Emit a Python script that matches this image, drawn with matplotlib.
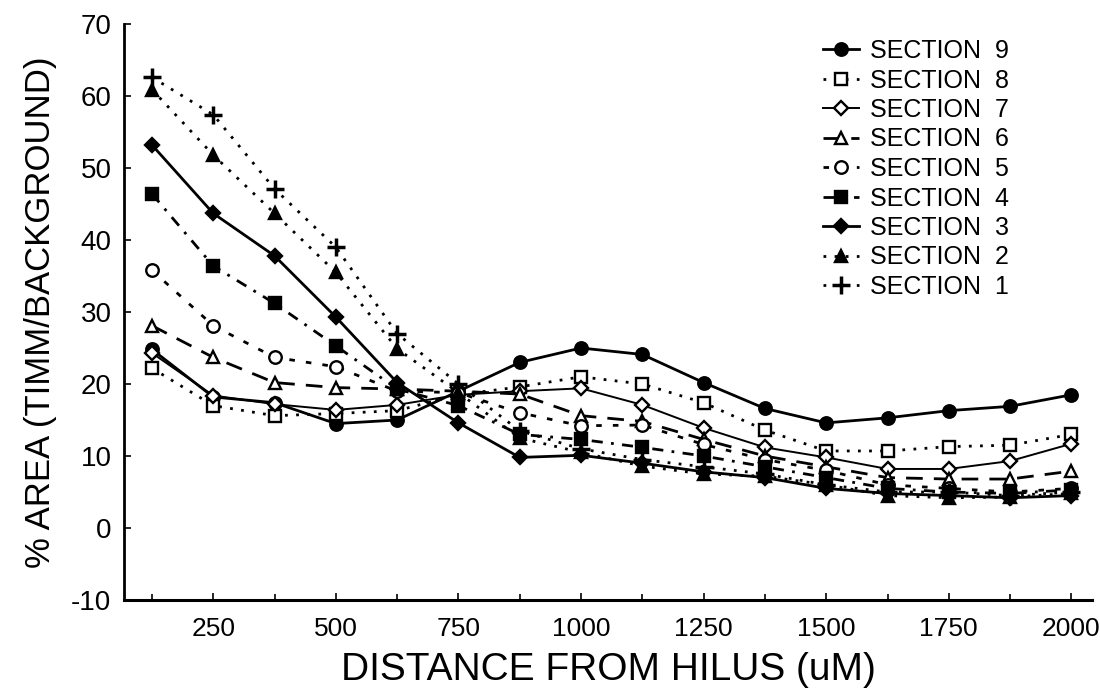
import matplotlib
matplotlib.use("Agg")
import matplotlib.pyplot as plt
from matplotlib.ticker import MultipleLocator

distance = [125, 250, 375, 500, 625, 750, 875, 1000, 1125, 1250, 1375, 1500, 1625, 1750, 1875, 2000]

section9 = [24.8, 18.2, 17.4, 14.5, 15.0, 19.0, 23.0, 25.0, 24.1, 20.2, 16.6, 14.6, 15.3, 16.3, 16.9, 18.5]
section8 = [22.2, 17.0, 15.6, 15.9, 16.3, 18.5, 19.6, 21.0, 20.0, 17.4, 13.6, 10.7, 10.7, 11.3, 11.5, 13.0]
section7 = [24.3, 18.4, 17.2, 16.4, 17.1, 18.5, 19.0, 19.4, 17.1, 13.9, 11.2, 9.8, 8.2, 8.2, 9.3, 11.7]
section6 = [28.1, 23.7, 20.2, 19.5, 19.3, 19.0, 18.6, 15.6, 14.8, 12.3, 10.0, 8.5, 7.0, 6.8, 6.8, 7.9]
section5 = [35.8, 28.1, 23.7, 22.4, 19.0, 18.8, 16.0, 14.2, 14.3, 11.6, 9.5, 8.0, 6.0, 5.5, 5.0, 5.5]
section4 = [46.4, 36.4, 31.2, 25.3, 19.3, 17.0, 13.0, 12.3, 11.2, 10.0, 8.5, 7.0, 5.5, 5.0, 4.8, 5.3]
section3 = [53.2, 43.7, 37.8, 29.3, 20.2, 14.6, 9.8, 10.1, 9.0, 7.8, 7.0, 5.5, 4.8, 4.5, 4.2, 4.5]
section2 = [60.9, 51.8, 43.7, 35.5, 24.9, 18.8, 12.5, 10.5, 8.6, 7.5, 7.2, 6.0, 4.5, 4.2, 4.3, 4.8]
section1 = [62.6, 57.4, 47.1, 39.0, 27.0, 20.0, 13.5, 11.0, 9.5, 8.5, 7.5, 6.0, 5.0, 5.0, 4.5, 5.0]

labels = ["SECTION  9", "SECTION  8", "SECTION  7", "SECTION  6", "SECTION  5",
          "SECTION  4", "SECTION  3", "SECTION  2", "SECTION  1"]
x_ticks = [250, 500, 750, 1000, 1250, 1500, 1750, 2000]
y_ticks = [-10, 0, 10, 20, 30, 40, 50, 60, 70]

plt.rcParams['font.family'] = ["Liberation Sans", "DejaVu Sans"]
plt.rcParams['axes.unicode_minus'] = False

fig = plt.figure(figsize=(11, 6.98), dpi=100)
ax = fig.add_axes([124 / 1100, 1 - 600 / 698, (1092 - 124) / 1100, (600 - 24) / 698])

series = [section9, section8, section7, section6, section5, section4, section3, section2, section1]
styles = [
    dict(ls='-', marker='o', mfc='black'),
    dict(ls=(0, (1, 3)), marker='s', mfc='white'),
    dict(ls='-', marker='D', mfc='white', lw=1.4),
    dict(ls=(0, (6, 4)), marker='^', mfc='white'),
    dict(ls=(0, (2, 4)), marker='o', mfc='white'),
    dict(ls=(0, (4, 3, 1, 3)), marker='s', mfc='black'),
    dict(ls='-', marker='D', mfc='black'),
    dict(ls=(0, (1, 3)), marker='^', mfc='black'),
    dict(ls=(0, (1, 3)), marker='+', mfc='black'),
]
sizes = [9, 9, 7.5, 8, 9, 9, 7.5, 9, 13]

for vals, lab, st, ms in zip(series, labels, styles, sizes):
    lw = st.pop('lw', 2.0)
    mew = 2.5 if st['marker'] == '+' else 1.7
    ax.plot(distance, vals, color='black', lw=lw, ms=ms, mec='black', mew=mew, label=lab, **st)

ax.set_xlim(68, 2042)
ax.set_ylim(-10, 70)
ax.set_xticks(x_ticks)
ax.set_yticks(y_ticks)
ax.xaxis.set_minor_locator(MultipleLocator(125))
ax.spines['top'].set_visible(False)
ax.spines['right'].set_visible(False)
ax.spines['left'].set_linewidth(2)
ax.spines['bottom'].set_linewidth(2.2)
ax.tick_params(axis='both', which='both', direction='in', width=1.2, colors='black')
ax.tick_params(axis='both', which='major', length=5)
ax.tick_params(axis='x', which='minor', length=4)
ax.tick_params(axis='x', labelsize=19, pad=12)
ax.tick_params(axis='y', labelsize=20, pad=9)

ax.set_xlabel("DISTANCE FROM HILUS (uM)", fontsize=28, labelpad=8)
ax.set_ylabel("% AREA (TIMM/BACKGROUND)", fontsize=25, labelpad=10)

leg = ax.legend(loc='upper right', bbox_to_anchor=(0.93, 1.0), frameon=False, fontsize=18,
                handlelength=1.45, labelspacing=0.22, handletextpad=0.45, borderaxespad=0.2)

fig.savefig("out.png", dpi=100)
